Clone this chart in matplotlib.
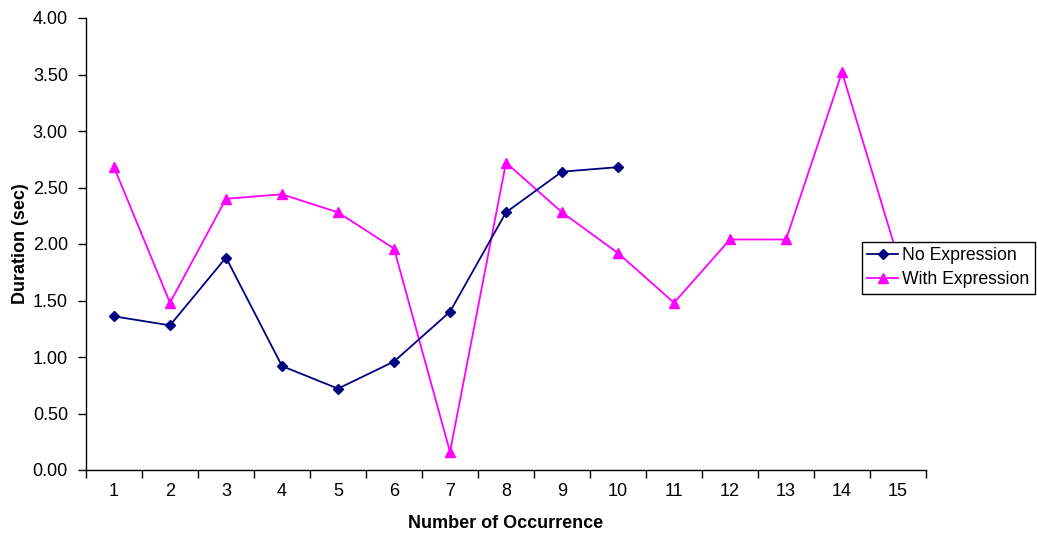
import matplotlib
matplotlib.use("Agg")
import matplotlib.pyplot as plt

plt.rcParams['font.family'] = ['Liberation Sans', 'DejaVu Sans']

categories = list(range(1, 16))
no_expr = [1.36, 1.28, 1.88, 0.92, 0.72, 0.96, 1.40, 2.28, 2.64, 2.68]
with_expr = [2.68, 1.48, 2.40, 2.44, 2.28, 1.96, 0.16, 2.72, 2.28, 1.92,
             1.48, 2.04, 2.04, 3.52, 1.88]
yticks = [0.0, 0.5, 1.0, 1.5, 2.0, 2.5, 3.0, 3.5, 4.0]

W, H = 1037, 538
fig = plt.figure(figsize=(W / 100, H / 100), dpi=100)
ax = fig.add_axes([86 / W, (H - 470) / H, 840 / W, 452 / H])

ax.plot(categories[:len(no_expr)], no_expr, color='#000080', marker='D',
        markersize=5.5, linewidth=1.3, label='No Expression', zorder=3)
ax.plot(categories, with_expr, color='#FF00FF', marker='^',
        markersize=7, linewidth=1.3, label='With Expression', zorder=2)

ax.set_xlim(0.5, 15.5)
ax.set_ylim(0, 4)
ax.set_yticks(yticks)
ax.set_yticklabels([f"{v:.2f}" for v in yticks], fontsize=13)
ax.set_xticks(categories)
ax.set_xticklabels([str(c) for c in categories], fontsize=13)
ax.set_xticks([c + 0.5 for c in [0] + categories], minor=True)
ax.tick_params(axis='x', which='major', length=0, pad=9)
ax.tick_params(axis='x', which='minor', length=6, width=1, direction='out')
ax.tick_params(axis='y', which='major', length=6, width=1, direction='out', pad=7)

for s in ['top', 'right']:
    ax.spines[s].set_visible(False)
for s in ['left', 'bottom']:
    ax.spines[s].set_linewidth(1)
    ax.spines[s].set_color('black')

ax.set_xlabel('Number of Occurrence', fontsize=13, fontweight='bold', labelpad=11)
ax.set_ylabel('Duration (sec)', fontsize=13, fontweight='bold', labelpad=3)

leg = ax.legend(loc='upper left', bbox_to_anchor=(862 / W, (H - 242) / H),
                bbox_transform=fig.transFigure, fontsize=12.7, frameon=True,
                fancybox=False, shadow=False, framealpha=1, borderpad=0.3,
                handlelength=1.75, handletextpad=0.22, labelspacing=0.4,
                borderaxespad=0)
leg.get_frame().set_edgecolor('black')
leg.get_frame().set_linewidth(1)
leg._legend_box.sep = 0
leg.set_zorder(5)

fig.savefig('out.png', dpi=100)
